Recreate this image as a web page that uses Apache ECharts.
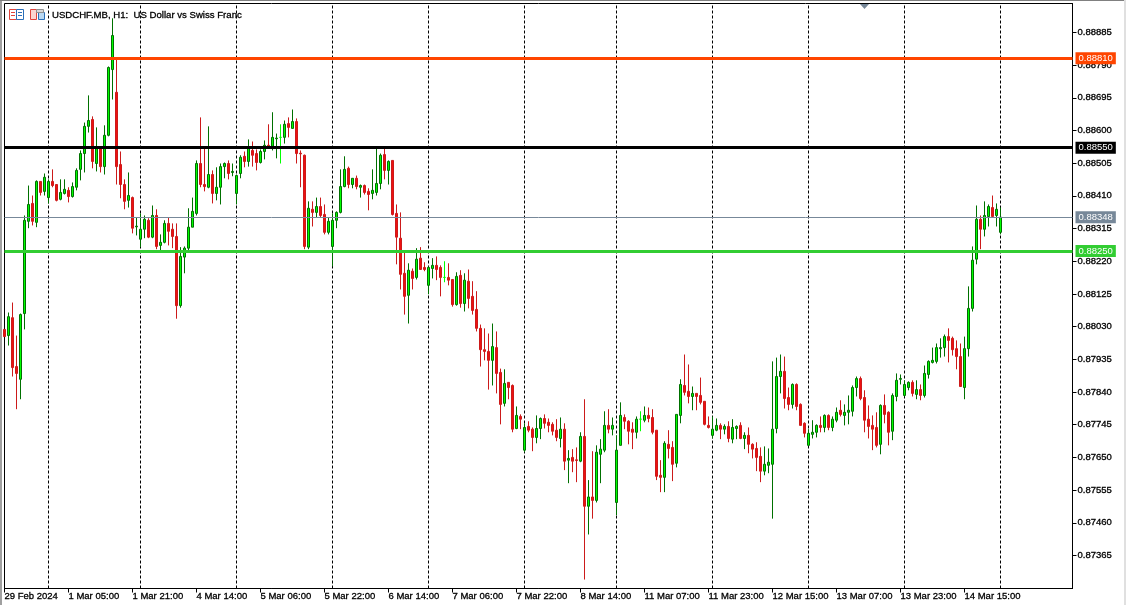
<!DOCTYPE html>
<html>
<head>
<meta charset="utf-8">
<script src="https://cdn.jsdelivr.net/npm/echarts@6/dist/echarts.min.js"></script>
<style>html,body{margin:0;padding:0;background:#fff;overflow:hidden}#c{width:1126px;height:605px}</style>
</head>
<body>
<div id="c"></div>
<script>
// prices in 1/100000 of a franc
const opens = [
88022,88004,88056,87914,87877,88068,88336,88388,88333,88452,
88423,88405,88452,88443,88400,88417,88426,88408,88435,88487,
88533,88612,88632,88504,88548,88495,88586,88777,88711,88501,
88443,88397,88405,88320,88284,88313,88339,88290,88353,88266,
88275,88330,88313,88292,88091,88232,88258,88319,88359,88504,
88443,88435,88472,88417,88435,88495,88504,88478,88417,88475,
88525,88510,88542,88533,88507,88539,88557,88554,88576,88580,
88580,88620,88606,88626,88534,88528,88261,88371,88362,88379,
88356,88304,88263,88339,88362,88437,88490,88443,88461,88435,
88440,88423,88417,88420,88446,88530,88484,88513,88359,88287,
88185,88121,88191,88173,88229,88202,88150,88199,88208,88202,
88173,88173,88167,88094,88179,88097,88162,88118,88080,88025,
87963,87958,87932,87969,87897,87807,87868,87859,87734,87769,
87671,87740,87732,87708,87734,87763,87752,87746,87729,87705,
87732,87642,87650,87643,87639,87711,87508,87535,87525,87659,
87671,87743,87732,87519,87685,87766,87755,87732,87723,87761,
87758,87772,87766,87729,87598,87592,87688,87679,87633,87772,
87859,87842,87827,87836,87830,87813,87743,87714,87729,87743,
87732,87740,87703,87734,87743,87705,87714,87688,87676,87653,
87610,87627,87630,87734,87885,87900,87824,87804,87862,87804,
87749,87685,87717,87723,87743,87737,87772,87737,87758,87787,
87772,87781,87784,87853,87879,87824,87761,87743,87737,87688,
87801,87781,87726,87827,87877,87830,87853,87868,87833,87847,
87830,87891,87926,87929,87966,87969,88001,87996,87966,87943,
87853,87966,88083,88226,88342,88313,88350,88376,88353,88304];
const highs = [
88022,88071,88100,88004,88068,88353,88440,88411,88455,88452,
88475,88458,88487,88443,88458,88458,88435,88449,88490,88542,
88623,88702,88641,88609,88551,88615,88786,88926,88809,88539,
88458,88478,88408,88348,88359,88353,88345,88382,88371,88298,
88339,88348,88330,88330,88261,88263,88374,88405,88513,88638,
88548,88612,88484,88493,88504,88507,88513,88504,88472,88528,
88539,88574,88568,88545,88545,88571,88618,88653,88591,88618,
88629,88638,88661,88635,88542,88530,88394,88394,88405,88405,
88385,88348,88359,88365,88487,88525,88495,88461,88469,88443,
88443,88432,88487,88548,88533,88548,88513,88513,88385,88362,
88246,88214,88199,88258,88261,88217,88205,88229,88234,88208,
88220,88214,88167,88188,88194,88185,88196,88162,88133,88036,
88025,88010,88039,88016,87908,87906,87868,87862,87798,87775,
87749,87755,87737,87772,87766,87775,87763,87752,87761,87766,
87749,87671,87674,87679,87723,87819,87584,87668,87685,87703,
87784,87790,87766,87714,87810,87775,87758,87752,87769,87784,
87798,87795,87790,87729,87642,87697,87729,87697,87775,87877,
87949,87920,87856,87836,87882,87813,87769,87769,87763,87749,
87746,87755,87761,87743,87752,87723,87737,87691,87694,87679,
87682,87676,87929,87940,87949,87943,87853,87865,87865,87807,
87752,87732,87758,87746,87769,87775,87775,87769,87795,87816,
87804,87830,87859,87885,87885,87845,87801,87772,87781,87804,
87833,87784,87836,87894,87891,87874,87871,87874,87874,87862,
87917,87932,87969,87981,87996,88007,88025,88001,87990,87981,
88001,88147,88263,88382,88353,88394,88385,88411,88388,88376];
const lows = [
88001,87975,87885,87790,87819,88022,88316,88324,88319,88411,
88411,88388,88435,88394,88397,88414,88391,88405,88426,88455,
88478,88594,88490,88481,88478,88472,88583,88690,88443,88403,
88371,88376,88301,88295,88261,88287,88287,88287,88255,88252,
88272,88266,88258,88053,88085,88185,88252,88319,88353,88435,
88423,88432,88388,88397,88385,88461,88458,88467,88385,88461,
88493,88495,88495,88484,88504,88516,88551,88542,88519,88504,
88562,88580,88606,88504,88435,88255,88255,88321,88348,88348,
88298,88298,88205,88316,88359,88435,88432,88432,88429,88405,
88414,88368,88400,88411,88429,88458,88443,88353,88211,88138,
88065,88039,88138,88167,88196,88191,88124,88170,88165,88118,
88159,88150,88088,88091,88085,88074,88083,88065,88016,87914,
87932,87847,87859,87836,87746,87798,87819,87723,87732,87732,
87665,87723,87668,87691,87703,87734,87723,87714,87697,87679,
87613,87575,87607,87578,87636,87295,87426,87472,87519,87575,
87665,87720,87714,87482,87685,87732,87688,87674,87705,87726,
87752,87752,87717,87584,87549,87549,87647,87581,87621,87749,
87830,87807,87787,87787,87804,87743,87734,87705,87726,87703,
87717,87694,87691,87703,87703,87674,87662,87647,87610,87578,
87598,87604,87472,87720,87836,87792,87787,87792,87787,87743,
87708,87685,87705,87708,87723,87723,87729,87726,87752,87769,
87743,87746,87769,87827,87816,87723,87705,87671,87679,87659,
87749,87685,87700,87813,87862,87827,87845,87827,87819,87816,
87824,87879,87923,87923,87940,87943,87926,87946,87906,87856,
87819,87943,88074,88211,88255,88292,88321,88350,88321,88298];
const closes = [
88001,88059,87911,87894,88065,88339,88385,88336,88452,88420,
88464,88452,88440,88397,88420,88429,88408,88437,88484,88533,
88612,88629,88510,88548,88495,88586,88783,88876,88495,88443,
88394,88411,88316,88322,88313,88342,88290,88353,88263,88275,
88330,88307,88292,88091,88234,88258,88319,88365,88504,88443,
88437,88472,88417,88435,88495,88504,88475,88481,88469,88522,
88510,88548,88528,88507,88539,88557,88554,88580,88578,88580,
88618,88609,88626,88533,88532,88263,88374,88362,88379,88353,
88304,88336,88339,88362,88437,88487,88443,88461,88437,88440,
88420,88414,88426,88446,88528,88484,88510,88356,88290,88182,
88118,88194,88170,88226,88196,88196,88202,88208,88196,88173,
88173,88165,88094,88176,88097,88165,88112,88077,88025,87963,
87958,87932,87972,87894,87804,87865,87853,87732,87772,87761,
87737,87729,87708,87734,87763,87749,87743,87726,87708,87732,
87639,87647,87639,87641,87711,87508,87535,87525,87665,87674,
87743,87732,87743,87671,87772,87755,87726,87723,87761,87761,
87772,87763,87723,87595,87592,87691,87676,87630,87775,87862,
87839,87827,87836,87827,87810,87746,87737,87732,87743,87732,
87740,87705,87737,87740,87705,87714,87688,87674,87650,87610,
87630,87636,87732,87885,87900,87821,87804,87862,87798,87743,
87720,87720,87723,87743,87737,87772,87737,87761,87781,87775,
87781,87787,87853,87879,87821,87758,87740,87732,87685,87801,
87775,87723,87830,87874,87879,87862,87868,87836,87847,87830,
87894,87929,87932,87969,87969,88001,87990,87963,87943,87856,
87966,88083,88223,88342,88313,88353,88379,88350,88371,88348];

const xTickLabels = ['29 Feb 2024','1 Mar 05:00','1 Mar 21:00','4 Mar 14:00','5 Mar 06:00','5 Mar 22:00','6 Mar 14:00','7 Mar 06:00','7 Mar 22:00','8 Mar 14:00','11 Mar 07:00','11 Mar 23:00','12 Mar 15:00','13 Mar 07:00','13 Mar 23:00','14 Mar 15:00'];
const yTicks = [0.88885,0.88790,0.88695,0.88600,0.88505,0.88410,0.88315,0.88220,0.88125,0.88030,0.87935,0.87840,0.87745,0.87650,0.87555,0.87460,0.87365];
const daySeparators = [11,34,58,82,106,130,153,177,201,225,249]; // bar index at each midnight
const priceLines = [
  {value:0.88810,color:'#ff4500',width:3},
  {value:0.88550,color:'#000000',width:3},
  {value:0.88348,color:'#778899',width:1},
  {value:0.88250,color:'#32cd32',width:3}
];
const slotCount = 268, ticksEvery = 16;
const FONT = '"Liberation Sans"';

const categories = Array.from({length:slotCount},(_,i)=>String(i));
const candles = opens.map((o,i)=>[o/1e5,closes[i]/1e5,lows[i]/1e5,highs[i]/1e5]);
const isLabelled = i => i % ticksEvery === 0 && i/ticksEvery < xTickLabels.length;
const inkText = {fontFamily:FONT,color:'#000',textBorderColor:'#000',textBorderWidth:0.3};

const chart = echarts.init(document.getElementById('c'),null,{renderer:'canvas'});
chart.setOption({
  animation:false,
  backgroundColor:'#ffffff',
  title:{text:'USDCHF.MB, H1:  US Dollar vs Swiss Franc',left:47,top:5,
    textStyle:Object.assign({fontSize:9.6,fontWeight:'normal'},inkText)},
  grid:{left:4.5,right:53.5,top:3.5,bottom:16.5,show:true,borderColor:'#000',borderWidth:1,backgroundColor:'#fff'},
  xAxis:{type:'category',data:categories,boundaryGap:false,
    axisLine:{show:true,lineStyle:{color:'#000',width:1}},
    axisTick:{show:true,length:4,interval:(i)=>isLabelled(i),lineStyle:{color:'#000'}},
    axisLabel:Object.assign({show:true,interval:(i)=>isLabelled(i),formatter:(v,i)=>xTickLabels[i/ticksEvery]||'',
      align:'left',margin:3,fontSize:9.5,hideOverlap:false},inkText),
    splitLine:{show:false}},
  yAxis:{type:'value',position:'right',min:0.87269,max:0.88969,scale:true,
    axisLine:{show:true,lineStyle:{color:'#000',width:1}},
    axisTick:{show:true,length:4,customValues:yTicks,lineStyle:{color:'#000'}},
    axisLabel:Object.assign({show:true,customValues:yTicks,margin:5,formatter:v=>v.toFixed(5),fontSize:9.5},inkText),
    splitLine:{show:false}},
  series:[
    {type:'line',name:'separators',data:[],z:1,silent:true,
      markLine:{silent:true,symbol:'none',animation:false,z:1,label:{show:false},
        lineStyle:{color:'#000',type:[3,2],width:1},
        data:daySeparators.map(i=>({xAxis:String(i)}))}},
    {type:'candlestick',name:'USDCHF.MB',data:candles,z:3,barWidth:3,
      itemStyle:{color:'#00ff00',color0:'#ee1111',borderColor:'#007000',borderColor0:'#cc1a1a',borderColorDoji:'#00ff00',borderWidth:1}},
    {type:'line',name:'levels',data:[],z:6,silent:true,
      markLine:{silent:true,symbol:'none',animation:false,z:6,precision:5,
        data:priceLines.map(p=>({yAxis:p.value,
          lineStyle:{color:p.color,width:p.width,type:'solid'},
          label:{show:true,position:'end',distance:3,formatter:p.value.toFixed(5),
            backgroundColor:p.color,color:'#fff',padding:[1,3,1,3],fontFamily:FONT,fontSize:9.5}}))}}
  ],
  graphic:[
    {type:'rect',silent:true,shape:{x:0,y:0,width:2,height:605},style:{fill:'#a0a0a0'}},
    {type:'rect',silent:true,shape:{x:0,y:0,width:1126,height:1},style:{fill:'#808080'}},
    {type:'rect',silent:true,shape:{x:1124,y:0,width:2,height:605},style:{fill:'#e0e0e0'}},
    {type:'rect',silent:true,z:20,shape:{x:9.5,y:9.5,width:7,height:10},style:{fill:'#fff',stroke:'#e0443c'}},
    {type:'rect',silent:true,z:20,shape:{x:16.5,y:9.5,width:7,height:10},style:{fill:'#fff',stroke:'#2a6fb8'}},
    {type:'rect',silent:true,z:21,shape:{x:11,y:12,width:4,height:1},style:{fill:'#e0443c'}},
    {type:'rect',silent:true,z:21,shape:{x:11,y:15,width:4,height:1},style:{fill:'#e0443c'}},
    {type:'rect',silent:true,z:21,shape:{x:18,y:12,width:4,height:1},style:{fill:'#2a6fb8'}},
    {type:'rect',silent:true,z:21,shape:{x:18,y:15,width:4,height:1},style:{fill:'#2a6fb8'}},
    {type:'rect',silent:true,z:20,shape:{x:30.5,y:9.5,width:6,height:10},style:{fill:'#fbd5d0',stroke:'#e0443c'}},
    {type:'rect',silent:true,z:20,shape:{x:38.5,y:12.5,width:6,height:7},style:{fill:'#b9d8f2',stroke:'#2a6fb8'}},
    {type:'rect',silent:true,z:21,shape:{x:36.5,y:9.5,width:7,height:3},style:{fill:'#d8d8d8',stroke:'#909090'}},
    {type:'polygon',silent:true,z:20,shape:{points:[[860,4],[869,4],[864.5,9]]},style:{fill:'#778899'}}
  ]
});
</script>
</body>
</html>
